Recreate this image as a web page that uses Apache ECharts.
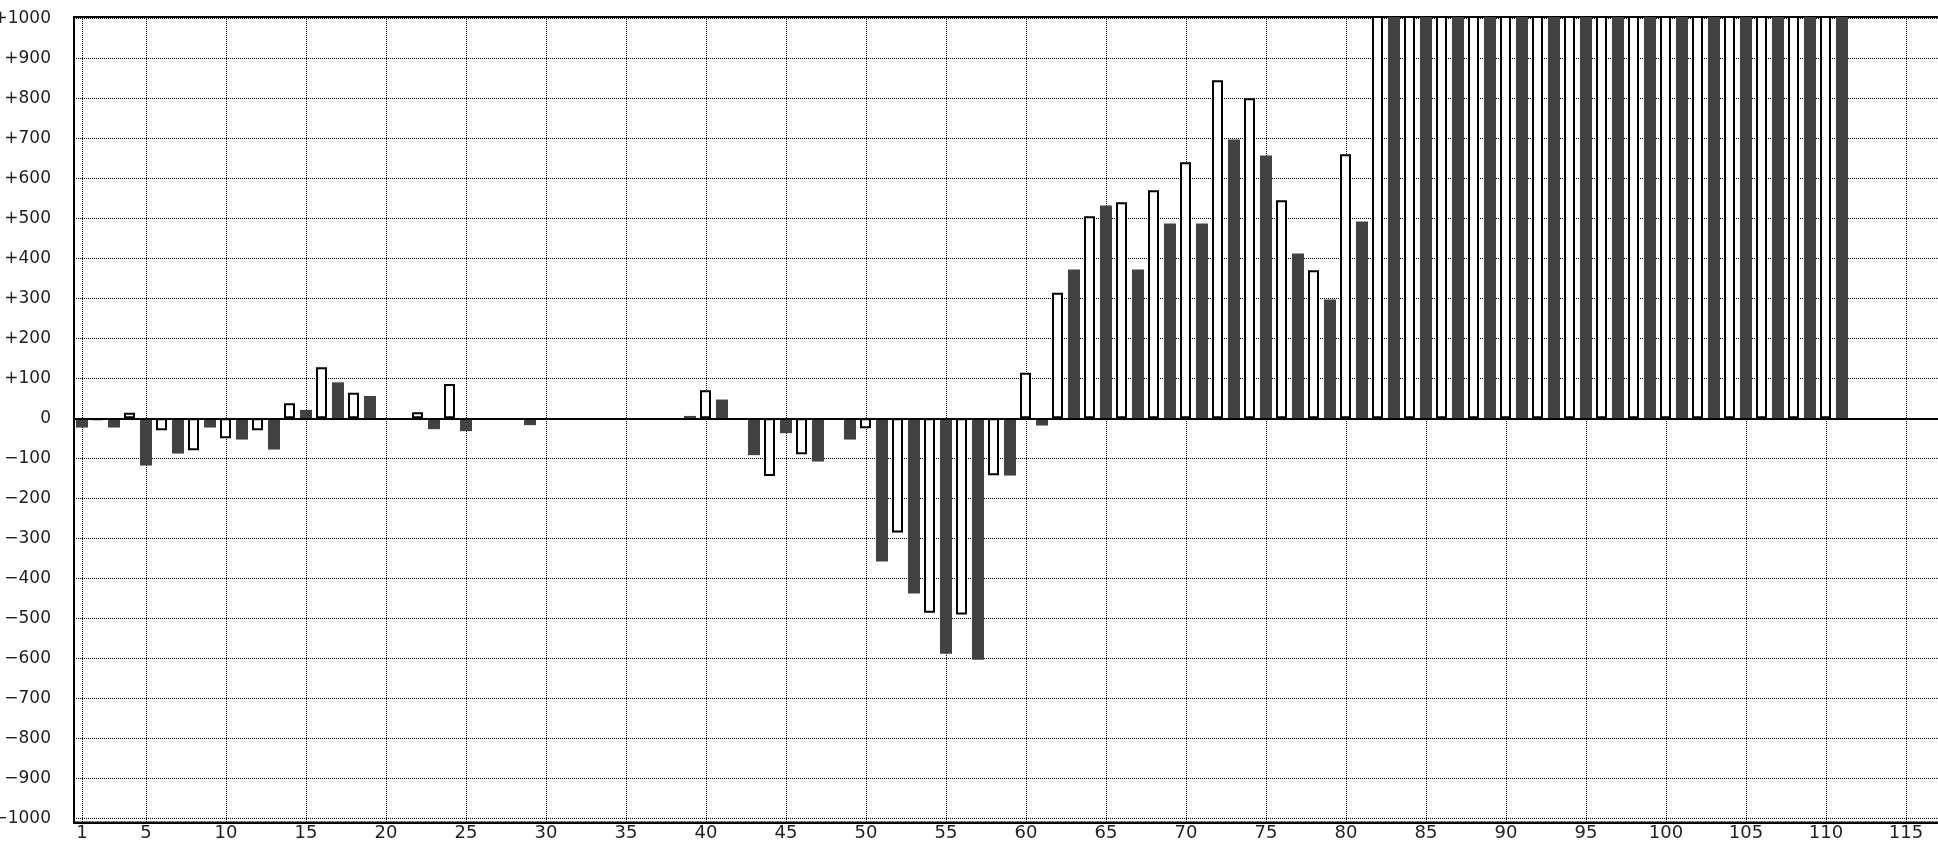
<!DOCTYPE html>
<html>
<head>
<meta charset="utf-8">
<script src="https://cdn.jsdelivr.net/npm/echarts@6/dist/echarts.min.js"></script>
<style>
  html, body { margin: 0; padding: 0; background: #fff; }
  #chart { width: 1938px; height: 842px; }
</style>
</head>
<body>
<div id="chart"></div>
<script>
// Categories 1..117
const categories = Array.from({ length: 117 }, (_, i) => String(i + 1));

// Open (white) bars, one entry per category (null = no bar). 1100 = off the top of the scale.
const whiteValues = [
  null, -4, null, 14, null, -30, null, -80, null, -50,          // 1-10
  null, -30, null, 38, null, 128, null, 64, null, null,         // 11-20
  null, 15, null, 86, null, null, null, null, null, null,       // 21-30
  null, null, null, null, null, null, null, null, null, 70,     // 31-40
  null, null, null, -144, null, -90, null, null, null, -25,     // 41-50
  null, -285, null, -486, null, -490, null, -142, null, 114,    // 51-60
  null, 314, null, 505, null, 540, null, 570, null, 640,        // 61-70
  null, 845, null, 800, null, 545, null, 370, null, 660,        // 71-80
  null, 1100, null, 1100, null, 1100, null, 1100, null, 1100,   // 81-90
  null, 1100, null, 1100, null, 1100, null, 1100, null, 1100,   // 91-100
  null, 1100, null, 1100, null, 1100, null, 1100, null, 1100,   // 101-110
  null, null, null, null, null, null, null                      // 111-117
];

// Filled (dark) bars
const darkValues = [
  -23, null, -23, null, -118, null, -88, null, -23, null,       // 1-10
  -53, null, -78, null, 21, null, 90, null, 56, null,           // 11-20
  null, null, -27, null, -32, null, null, null, -17, null,      // 21-30
  null, null, null, null, null, null, null, null, 6, null,      // 31-40
  47, null, -92, null, -37, null, -108, null, -53, null,        // 41-50
  -358, null, -438, null, -588, null, -603, null, -143, null,   // 51-60
  -18, null, 372, null, 532, null, 372, null, 487, null,        // 61-70
  487, null, 697, null, 657, null, 412, null, 297, null,        // 71-80
  492, null, 1100, null, 1100, null, 1100, null, 1100, null,    // 81-90
  1100, null, 1100, null, 1100, null, 1100, null, 1100, null,   // 91-100
  1100, null, 1100, null, 1100, null, 1100, null, 1100, null,   // 101-110
  1100, null, null, null, null, null, null                      // 111-117
];

const labelEvery = (idx) => idx === 0 || (idx + 1) % 5 === 0;
const gridEvery = (idx) => idx === 0 || (idx + 1) % 5 === 0;

const dotted = { color: '#000', width: 1, type: [1, 1] };
const fontFam = '"DejaVu Sans", sans-serif';

const chart = echarts.init(document.getElementById('chart'), null, { renderer: 'canvas' });
chart.setOption({
  animation: false,
  backgroundColor: '#fff',
  grid: {
    left: 74, top: 17, bottom: 19.5, right: -8,
    show: true, borderColor: '#000', borderWidth: 2, backgroundColor: 'transparent',
    containLabel: false,
    outerBoundsMode: 'none'
  },
  xAxis: {
    type: 'category',
    data: categories,
    boundaryGap: true,
    axisLine: { show: true, onZero: false, lineStyle: { color: '#000', width: 2 } },
    axisTick: { show: false },
    axisLabel: {
      interval: labelEvery,
      fontFamily: fontFam, fontSize: 18, color: '#222', margin: 2
    },
    splitLine: { show: true, interval: gridEvery, alignWithLabel: true, lineStyle: dotted }
  },
  yAxis: {
    type: 'value',
    min: -1010, max: 1003,
    splitNumber: 20, minInterval: 100, maxInterval: 100,
    axisLine: { show: true, lineStyle: { color: '#000', width: 2 } },
    axisTick: { show: false },
    axisLabel: {
      showMinLabel: false, showMaxLabel: false,
      fontFamily: fontFam, fontSize: 17, color: '#222', margin: 23,
      formatter: (v) => v > 0 ? '+' + v : (v < 0 ? '\u2212' + Math.abs(v) : '0')
    },
    splitLine: { show: true, lineStyle: dotted }
  },
  series: [
    {
      name: 'open', type: 'bar', data: whiteValues,
      barWidth: 11, barGap: '-100%', clip: true,
      itemStyle: { color: '#fff', borderColor: '#000', borderWidth: 2 },
      markLine: {
        silent: true, symbol: 'none', label: { show: false },
        lineStyle: { color: '#000', width: 2, type: 'solid' },
        data: [{ yAxis: 0 }]
      }
    },
    {
      name: 'filled', type: 'bar', data: darkValues,
      barWidth: 12, barGap: '-100%', clip: true,
      itemStyle: { color: '#424242' }
    }
  ]
});
</script>
</body>
</html>
